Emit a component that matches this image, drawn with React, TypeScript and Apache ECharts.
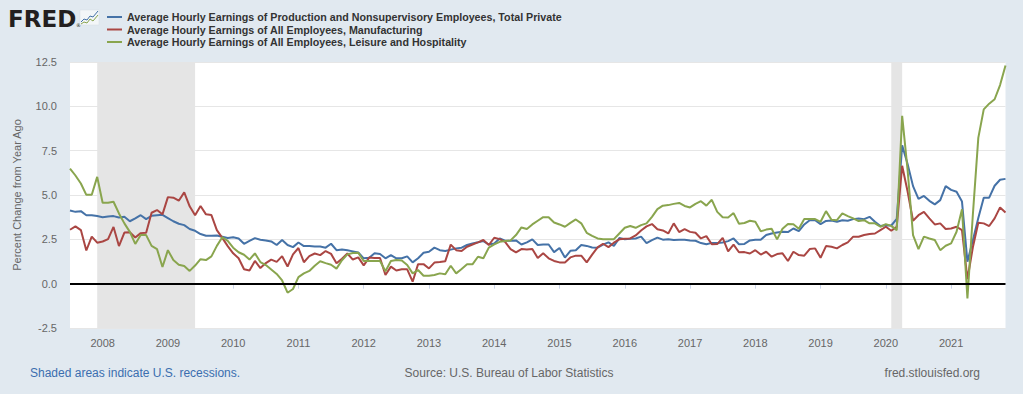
import React, { useEffect, useRef } from "react";
import * as echarts from "echarts";

// Monthly categories: 2007-07 .. 2021-11
const START_YEAR = 2007;
const START_MONTH = 7;
const COUNT = 173;
const months: string[] = [];
for (let i = 0; i < COUNT; i++) {
  const t = START_MONTH - 1 + i;
  const y = START_YEAR + Math.floor(t / 12);
  const m = (t % 12) + 1;
  months.push(`${y}-${String(m).padStart(2, "0")}`);
}

const seriesNames = [
  "Average Hourly Earnings of Production and Nonsupervisory Employees, Total Private",
  "Average Hourly Earnings of All Employees, Manufacturing",
  "Average Hourly Earnings of All Employees, Leisure and Hospitality",
];

const totalPrivate = [
  4.13, 4.05, 4.09, 3.86, 3.86, 3.81, 3.75, 3.79, 3.81, 3.73,
  3.77, 3.52, 3.68, 3.86, 3.64, 3.83, 3.86, 3.88, 3.70, 3.52,
  3.38, 3.30, 3.08, 2.98, 2.80, 2.70, 2.70, 2.72, 2.65, 2.57,
  2.62, 2.55, 2.25, 2.41, 2.57, 2.48, 2.44, 2.38, 2.18, 2.46,
  2.18, 2.06, 2.32, 2.12, 2.12, 2.10, 2.09, 2.03, 2.25, 1.89,
  1.93, 1.88, 1.82, 1.76, 1.43, 1.46, 1.71, 1.67, 1.43, 1.61,
  1.43, 1.43, 1.54, 1.20, 1.43, 1.74, 1.80, 2.03, 1.89, 1.84,
  1.92, 1.99, 2.03, 2.18, 2.27, 2.33, 2.40, 2.21, 2.27, 2.55,
  2.42, 2.42, 2.44, 2.21, 2.33, 2.50, 2.18, 2.21, 2.21, 1.78,
  2.01, 1.47, 1.85, 1.88, 2.18, 2.13, 2.04, 2.03, 2.20, 2.33,
  2.13, 2.57, 2.51, 2.53, 2.55, 2.65, 2.29, 2.46, 2.60, 2.48,
  2.51, 2.46, 2.48, 2.48, 2.44, 2.42, 2.29, 2.22, 2.30, 2.30,
  2.32, 2.40, 2.55, 2.22, 2.24, 2.44, 2.48, 2.48, 2.74, 2.83,
  2.88, 2.93, 2.91, 3.11, 2.96, 3.34, 3.58, 3.58, 3.36, 3.54,
  3.56, 3.49, 3.58, 3.55, 3.64, 3.68, 3.64, 3.77, 3.49, 3.25,
  3.30, 3.28, 3.65, 7.80, 6.75, 5.50, 4.78, 4.95, 4.67, 4.47,
  4.71, 5.50, 5.29, 5.18, 4.63, 1.24, 2.45, 3.70, 4.85, 4.85,
  5.52, 5.86, 5.91,
];

const manufacturing = [
  3.04, 3.23, 3.02, 1.87, 2.65, 2.31, 2.38, 2.51, 3.20, 2.12,
  2.88, 2.90, 2.60, 2.85, 2.87, 4.00, 4.15, 3.91, 4.88, 4.85,
  4.68, 5.15, 4.36, 3.86, 4.38, 3.91, 3.87, 3.02, 2.58, 2.12,
  1.71, 1.43, 0.81, 0.74, 1.28, 0.88, 1.16, 1.36, 1.23, 1.55,
  0.97, 1.65, 2.01, 1.21, 1.55, 1.70, 1.61, 1.84, 1.68, 1.15,
  1.41, 1.70, 1.36, 1.48, 1.03, 1.47, 1.45, 1.45, 0.49, 0.96,
  0.74, 0.81, 0.81, 0.11, 1.10, 1.10, 0.86, 1.19, 1.22, 1.27,
  2.20, 1.89, 1.84, 2.08, 2.21, 2.33, 2.46, 2.18, 2.59, 2.51,
  2.36, 1.95, 1.76, 1.95, 1.93, 1.95, 1.45, 1.71, 1.43, 1.28,
  1.20, 1.20, 1.48, 1.58, 1.58, 1.20, 1.64, 2.05, 2.25, 2.06,
  2.31, 2.50, 2.53, 2.55, 2.72, 3.00, 3.23, 3.36, 3.07, 3.00,
  2.83, 3.40, 2.91, 3.07, 2.92, 2.87, 2.55, 2.68, 2.22, 2.23,
  2.58, 1.82, 2.20, 1.77, 1.78, 1.70, 1.89, 1.64, 1.80, 1.52,
  1.67, 1.71, 1.28, 1.80, 1.61, 1.58, 1.95, 1.99, 1.46, 2.12,
  2.08, 1.99, 2.18, 2.33, 2.65, 2.65, 2.74, 2.80, 2.83, 3.02,
  3.21, 2.98, 3.21, 6.65, 5.20, 3.55, 3.86, 4.05, 3.68, 3.34,
  3.40, 3.08, 3.11, 3.21, 3.02, 0.25, 2.05, 3.43, 3.40, 3.25,
  3.68, 4.30, 4.01,
];

const leisure = [
  6.49, 6.10, 5.65, 5.01, 5.01, 6.02, 4.56, 4.56, 4.62, 3.96,
  3.40, 2.92, 2.24, 2.74, 2.74, 2.13, 1.95, 0.94, 1.89, 1.33,
  1.07, 1.00, 0.72, 1.02, 1.38, 1.33, 1.54, 2.13, 2.62, 2.41,
  2.03, 1.77, 1.63, 1.36, 1.71, 1.22, 1.05, 0.80, 0.55, 0.18,
  -0.51, -0.30, 0.37, 0.58, 0.72, 1.01, 1.26, 1.16, 1.07, 0.85,
  1.32, 1.65, 1.73, 1.74, 1.28, 1.28, 1.28, 1.28, 0.70, 1.28,
  1.33, 1.31, 1.05, 0.58, 0.77, 0.45, 0.45, 0.49, 0.58, 0.53,
  1.01, 0.58, 0.83, 1.09, 1.09, 1.52, 1.43, 2.03, 2.21, 2.36,
  2.40, 2.44, 2.74, 3.17, 3.08, 3.34, 3.55, 3.75, 3.75, 3.45,
  3.34, 3.21, 3.43, 3.62, 3.40, 2.87, 2.70, 2.55, 2.50, 2.50,
  2.51, 2.83, 3.15, 3.25, 3.15, 3.30, 3.40, 3.77, 4.20, 4.40,
  4.43, 4.50, 4.55, 4.38, 4.30, 4.50, 4.65, 4.40, 4.73, 4.05,
  3.75, 3.73, 3.98, 3.38, 3.42, 3.55, 3.49, 2.95, 3.05, 3.10,
  2.50, 3.10, 3.36, 3.35, 3.10, 3.64, 3.64, 3.64, 3.49, 4.09,
  3.60, 3.58, 3.96, 3.81, 3.68, 3.53, 3.58, 3.40, 3.40, 3.21,
  3.36, 3.26, 3.02, 9.46, 6.40, 2.74, 1.95, 2.65, 2.55, 2.46,
  1.89, 2.14, 2.27, 2.93, 4.20, -0.83, 3.90, 8.22, 9.83, 10.15,
  10.40, 11.20, 12.30,
];

const recessions: [string, string][] = [
  ["2007-12", "2009-06"],
  ["2020-02", "2020-04"],
];

const seriesColors = ["#4572a7", "#aa4643", "#89a54e"];

const FONT = '"Liberation Sans", Arial, Helvetica, sans-serif';

export default function App() {
  const ref = useRef<HTMLDivElement>(null);

  useEffect(() => {
    if (!ref.current) return;
    const chart = echarts.init(ref.current, null, { renderer: "svg" });
    const isJan = (_i: number, v: string) => typeof v === "string" && v.endsWith("-01");

    chart.setOption({
      animation: false,
      backgroundColor: "#e1e9f0",
      textStyle: { fontFamily: FONT },
      grid: {
        left: 70,
        right: 17.5,
        top: 62,
        bottom: 66,
        show: true,
        backgroundColor: "#ffffff",
        borderWidth: 0,
      },
      legend: {
        data: seriesNames,
        orient: "vertical",
        left: 107,
        top: 11,
        padding: 0,
        itemWidth: 15,
        itemHeight: 2,
        itemGap: 0.5,
        icon: "rect",
        selectedMode: false,
        textStyle: {
          fontFamily: FONT,
          fontSize: 10.7,
          fontWeight: "bold",
          color: "#333333",
          lineHeight: 12,
        },
      },
      xAxis: {
        type: "category",
        data: months,
        boundaryGap: false,
        axisLine: { show: false },
        axisTick: {
          show: true,
          interval: isJan,
          length: 5,
          lineStyle: { color: "#ccd6eb" },
        },
        axisLabel: {
          interval: isJan,
          formatter: (v: string) => v.slice(0, 4),
          color: "#666666",
          fontSize: 11,
          margin: 9,
          fontFamily: FONT,
        },
        splitLine: { show: false },
      },
      yAxis: {
        type: "value",
        min: -2.5,
        max: 12.5,
        interval: 2.5,
        axisLine: { show: false },
        axisTick: { show: false },
        axisLabel: {
          formatter: (v: number) => v.toFixed(1),
          color: "#666666",
          fontSize: 11,
          margin: 13,
          fontFamily: FONT,
        },
        splitLine: { lineStyle: { color: "#e6e6e6", width: 1 } },
      },
      series: [
        {
          name: "recessions",
          type: "line",
          data: [],
          z: 1,
          silent: true,
          markArea: {
            silent: true,
            itemStyle: { color: "#e5e5e5", opacity: 1 },
            data: recessions.map(([a, b]) => [{ xAxis: a }, { xAxis: b }]),
          },
          markLine: {
            silent: true,
            symbol: "none",
            label: { show: false },
            lineStyle: { color: "#000000", width: 2, type: "solid" },
            data: [{ yAxis: 0 }],
          },
        },
        ...[totalPrivate, manufacturing, leisure].map((d, i) => ({
          name: seriesNames[i],
          type: "line",
          data: d,
          showSymbol: false,
          symbol: "none",
          z: 3,
          lineStyle: { width: 2, color: seriesColors[i] },
          itemStyle: { color: seriesColors[i] },
        })),
      ],
      graphic: [
        {
          type: "text",
          x: 8,
          y: 19,
          style: {
            text: "FRED",
            font: 'bold 23px "DejaVu Sans"',
            fill: "#231f20",
            textVerticalAlign: "middle",
          },
        },
        {
          type: "text",
          x: 76,
          y: 25,
          style: { text: "®", font: '5px "DejaVu Sans"', fill: "#231f20", textVerticalAlign: "middle" },
        },
        {
          type: "rect",
          shape: { x: 80, y: 10, width: 19, height: 15 },
          style: { fill: "#f3f6f8", stroke: "#d4dde5", lineWidth: 0.5 },
        },
        {
          type: "polyline",
          shape: { points: [[81, 22], [84, 19], [87, 20], [90, 16], [93, 17], [98, 11]] },
          style: { stroke: "#4572a7", lineWidth: 1, fill: "none" },
        },
        {
          type: "polyline",
          shape: { points: [[81, 24], [84, 22], [87, 23], [90, 19], [93, 21], [98, 15]] },
          style: { stroke: "#89a54e", lineWidth: 1, fill: "none" },
        },
        {
          type: "text",
          x: 17,
          y: 195,
          rotation: Math.PI / 2,
          style: {
            text: "Percent Change from Year Ago",
            font: `11px ${FONT}`,
            fill: "#666666",
            textAlign: "center",
            textVerticalAlign: "middle",
          },
        },
        {
          type: "text",
          x: 30,
          y: 373,
          style: {
            text: "Shaded areas indicate U.S. recessions.",
            font: `12px ${FONT}`,
            fill: "#3b6eaf",
            textVerticalAlign: "middle",
          },
        },
        {
          type: "text",
          x: 509,
          y: 373,
          style: {
            text: "Source: U.S. Bureau of Labor Statistics",
            font: `12px ${FONT}`,
            fill: "#666666",
            textAlign: "center",
            textVerticalAlign: "middle",
          },
        },
        {
          type: "text",
          x: 980,
          y: 373,
          style: {
            text: "fred.stlouisfed.org",
            font: `12px ${FONT}`,
            fill: "#666666",
            textAlign: "right",
            textVerticalAlign: "middle",
          },
        },
      ],
    });

    return () => chart.dispose();
  }, []);

  return (
    <div
      ref={ref}
      style={{ position: "fixed", left: 0, top: 0, width: 1023, height: 394 }}
    />
  );
}
